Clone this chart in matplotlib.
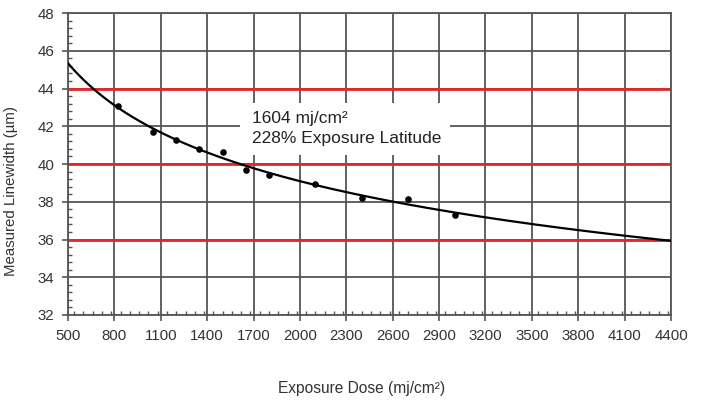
import numpy as np
import matplotlib.pyplot as plt
from matplotlib.patches import Rectangle
from matplotlib.ticker import MultipleLocator

# measured points
dose = [825, 1050, 1200, 1350, 1500, 1650, 1800, 2100, 2400, 2700, 3000]
linewidth = [43.07, 41.71, 41.26, 40.80, 40.62, 39.70, 39.42, 38.96, 38.18, 38.15, 37.30]

# spec limits (target +/- 4 um)
spec_lines = [36, 40, 44]

x_ticks = list(range(500, 4401, 300))
y_ticks = list(range(32, 49, 2))

annot = "1604 mj/cm\u00b2\n228% Exposure Latitude"

# power-law trend line fitted to the points (like the spreadsheet trendline)
b, log_a = np.polyfit(np.log(dose), np.log(linewidth), 1)
x_fit = np.linspace(500, 4400, 300)
y_fit = np.exp(log_a) * x_fit ** b

plt.rcParams['font.family'] = ['Liberation Sans', 'DejaVu Sans']

fig = plt.figure(figsize=(7.07, 4.01), dpi=100)
ax = fig.add_axes([68 / 707, 1 - 315 / 401, (671 - 68) / 707, (315 - 13) / 401])

ax.set_xlim(500, 4400)
ax.set_ylim(32, 48)
ax.set_xticks(x_ticks)
ax.set_yticks(y_ticks)
ax.xaxis.set_minor_locator(MultipleLocator(60))
ax.yaxis.set_minor_locator(MultipleLocator(0.4))
ax.tick_params(which='major', direction='out', length=4, width=1.2, color='#555555',
               labelsize=10.8, labelcolor='#333333', pad=6)
ax.tick_params(which='minor', direction='in', length=3, width=1.0, color='#555555')

ax.grid(True, which='major', color='#555555', linewidth=1.3, zorder=0.5)
ax.set_axisbelow(True)
for s in ax.spines.values():
    s.set_color('#555555')
    s.set_linewidth(1.3)

# white box behind the annotation
ax.add_patch(Rectangle((1612, 40.48), 1358, 2.75, facecolor='white', edgecolor='none', zorder=1))

for yv in spec_lines:
    ax.axhline(yv, color='#e8262a', linewidth=2, zorder=2)

ax.plot(x_fit, y_fit, color='black', linewidth=1.6, zorder=3)
ax.scatter(dose, linewidth, s=14, color='black', zorder=4)

ax.text(1690, 42.80, annot, fontsize=12.5, color='#222222', va='top', linespacing=1.38, zorder=5)

ax.set_xlabel('Exposure Dose (mj/cm\u00b2)', fontsize=11.2, color='#333333')
ax.xaxis.set_label_coords((362 - 68) / 603, -(381 - 315) / 302, transform=ax.transAxes)
ax.set_ylabel('Measured Linewidth (\u00b5m)', fontsize=10.8, color='#333333')
ax.yaxis.set_label_coords(-(68 - 18) / 603, (315 - 191) / 302, transform=ax.transAxes)

fig.savefig('out.png', dpi=100)
